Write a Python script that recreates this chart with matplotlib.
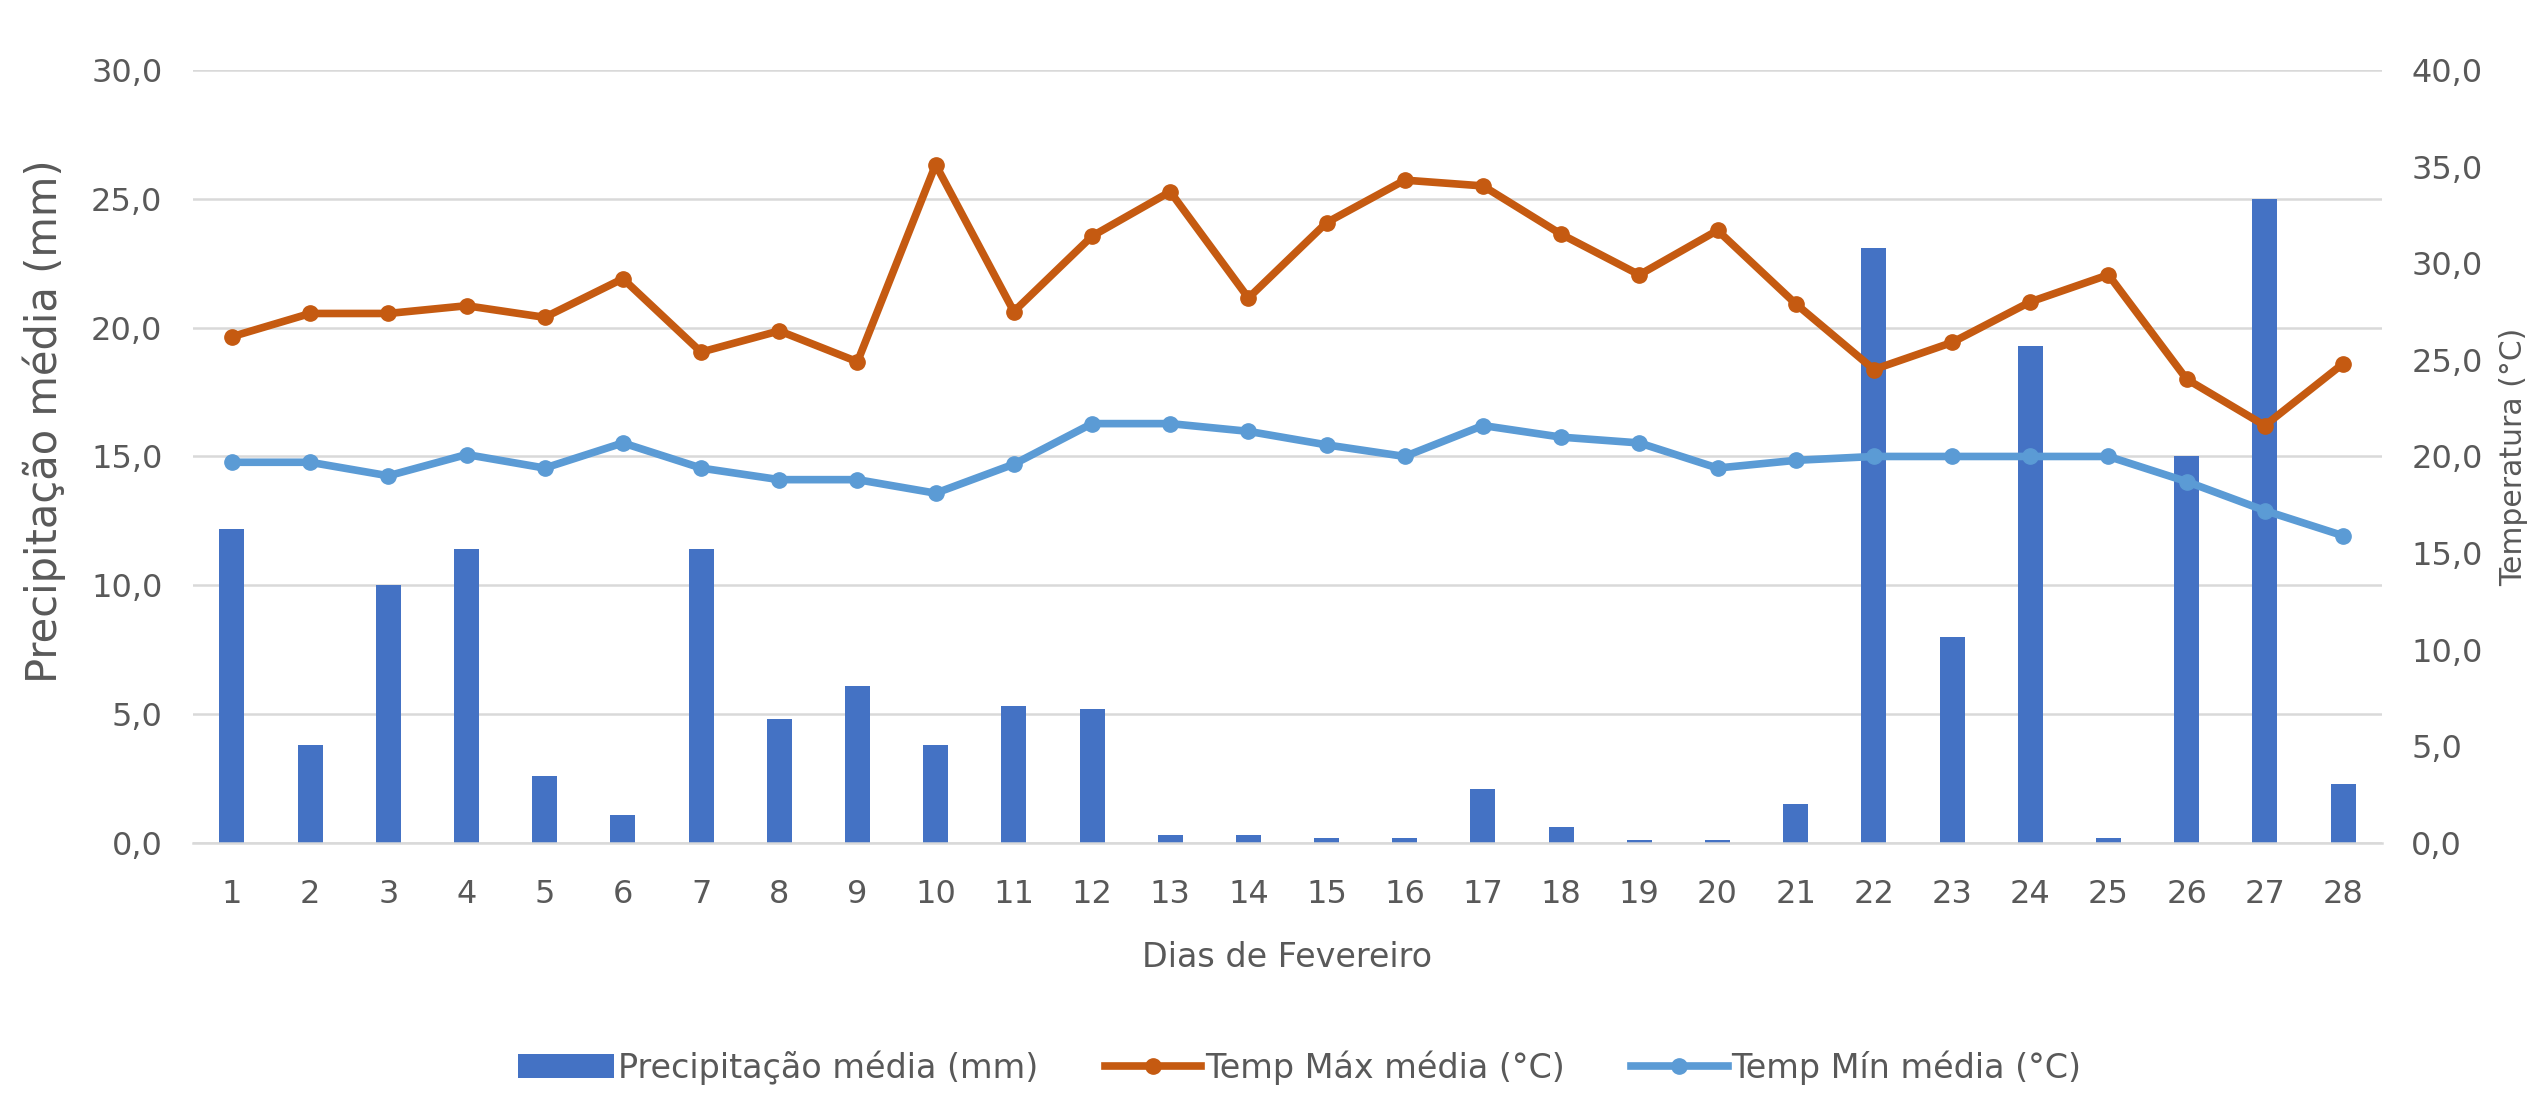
import numpy as np
import matplotlib.pyplot as plt
from matplotlib.ticker import FuncFormatter

# Dias de fevereiro
days = list(range(1, 29))

# Precipitação média (mm)
precip = [12.2, 3.8, 10.0, 11.4, 2.6, 1.1, 11.4, 4.8, 6.1, 3.8,
          5.3, 5.2, 0.3, 0.3, 0.2, 0.2, 2.1, 0.6, 0.1, 0.1,
          1.5, 23.1, 8.0, 19.3, 0.2, 15.0, 25.0, 2.3]

# Temp Máx média (°C)
tmax = [26.2, 27.4, 27.4, 27.8, 27.2, 29.2, 25.4, 26.5, 24.9, 35.1,
        27.5, 31.4, 33.7, 28.2, 32.1, 34.3, 34.0, 31.5, 29.4, 31.7,
        27.9, 24.5, 25.9, 28.0, 29.4, 24.0, 21.6, 24.8]

# Temp Mín média (°C)
tmin = [19.7, 19.7, 19.0, 20.1, 19.4, 20.7, 19.4, 18.8, 18.8, 18.1,
        19.6, 21.7, 21.7, 21.3, 20.6, 20.0, 21.6, 21.0, 20.7, 19.4,
        19.8, 20.0, 20.0, 20.0, 20.0, 18.7, 17.2, 15.9]

TXT = "#595959"
GRID = "#d9d9d9"

fig = plt.figure(figsize=(25.48, 11.09), dpi=100)
ax = fig.add_axes([0.0757, 0.2399, 0.8592, 0.697])
ax2 = ax.twinx()

comma = FuncFormatter(lambda v, p: f"{v:.1f}".replace(".", ","))

# barras no eixo esquerdo
ax.bar(days, precip, width=0.32, color="#4472C4",
       label="Precipitação média (mm)", zorder=2)
ax.set_xlim(0.5, 28.5)
ax.set_ylim(0, 30)
ax.set_yticks(np.arange(0, 31, 5))
ax.yaxis.set_major_formatter(comma)
ax.set_xticks(days)
ax.yaxis.grid(True, color=GRID, lw=1.8, zorder=0)
ax.set_axisbelow(True)

# linhas no eixo direito
ax2.plot(days, tmax, color="#C55A11", lw=5.5, marker="o", ms=11,
         label="Temp Máx média (°C)", zorder=3)
ax2.plot(days, tmin, color="#5B9BD5", lw=5.5, marker="o", ms=11,
         label="Temp Mín média (°C)", zorder=3)
ax2.set_ylim(0, 40)
ax2.set_yticks(np.arange(0, 41, 5))
ax2.yaxis.set_major_formatter(comma)

for a in (ax, ax2):
    for s in a.spines.values():
        s.set_visible(False)
ax.spines["bottom"].set_visible(True)
ax.spines["bottom"].set_color(GRID)
ax.spines["bottom"].set_linewidth(1.8)

ax.tick_params(axis="x", length=0, pad=26, labelsize=23, labelcolor=TXT)
ax.tick_params(axis="y", length=0, pad=22, labelsize=23, labelcolor=TXT)
ax2.tick_params(axis="y", length=0, pad=21, labelsize=23, labelcolor=TXT)

ax.set_xlabel("Dias de Fevereiro", fontsize=24, color=TXT, labelpad=22)
ax.set_ylabel("Precipitação média (mm)", fontsize=30, color=TXT)
ax.yaxis.set_label_coords(-0.058, 0.545)
ax2.set_ylabel("Temperatura (°C)", fontsize=21.5, color=TXT, labelpad=12)

h1, l1 = ax.get_legend_handles_labels()
h2, l2 = ax2.get_legend_handles_labels()
fig.legend(h1 + h2, l1 + l2, loc="lower center", bbox_to_anchor=(0.51, -0.005),
           ncol=3, frameon=False, fontsize=24, labelcolor=TXT,
           handlelength=2.9, handletextpad=0.1, columnspacing=2.0)

fig.savefig("out.png", dpi=100)
